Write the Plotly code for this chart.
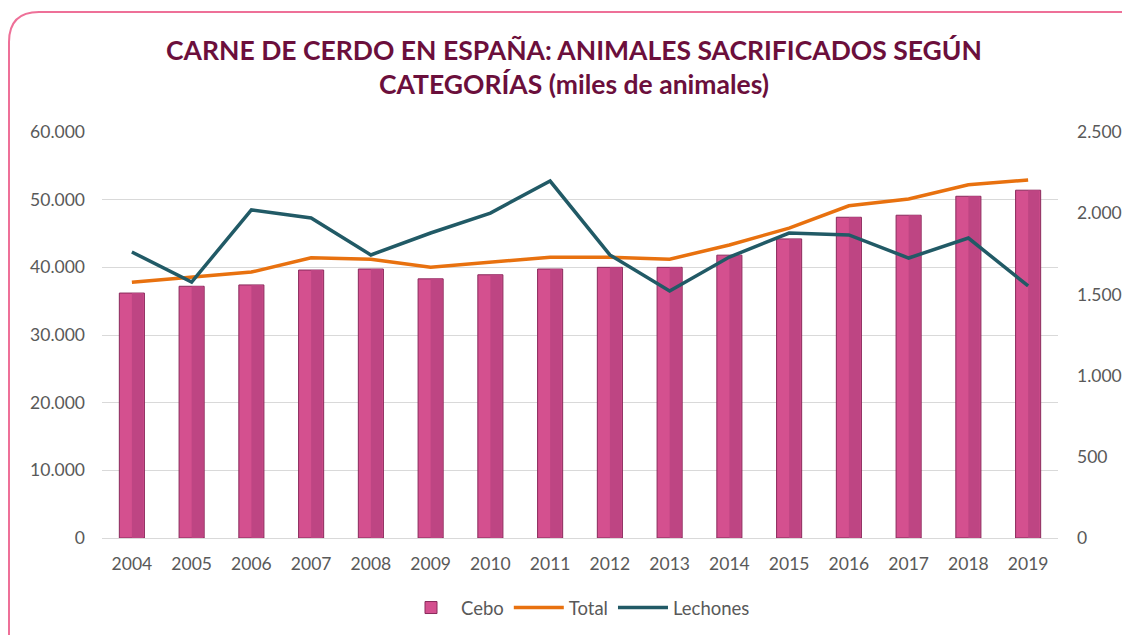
import plotly.graph_objects as go

years = [str(y) for y in range(2004, 2020)]
cebo = [36200, 37200, 37400, 39600, 39750, 38300, 38900, 39750, 40000, 40000, 41800, 44200, 47400, 47700, 50500, 51400]
total = [37800, 38600, 39300, 41400, 41200, 40000, 40800, 41500, 41500, 41200, 43300, 45800, 49100, 50100, 52200, 52900]
lechones = [1761, 1576, 2020, 1971, 1743, 1878, 2001, 2198, 1743, 1521, 1730, 1878, 1866, 1724, 1847, 1552]

left_ticks = [0, 10000, 20000, 30000, 40000, 50000, 60000]
right_ticks = [0, 500, 1000, 1500, 2000, 2500]

W, H = 1130, 635
OFF = 8  # page body offset
ML, MR, MT, MB = 102 - OFF, 72 + OFF, 132 - OFF, 97 + OFF

fig = go.Figure()
fig.add_trace(go.Bar(
    x=years, y=cebo, name="Cebo", width=0.42,
    marker=dict(color="#D4508F", line=dict(color="#8A2A5C", width=1)),
))
# darker right face for the bevelled look
fig.add_trace(go.Bar(
    x=years, y=cebo, name="Cebo", width=0.19, offset=0.0,
    marker=dict(color="#BE4583", line=dict(width=0)),
    showlegend=False, hoverinfo="skip",
))
fig.add_trace(go.Scatter(
    x=years, y=total, name="Total", mode="lines",
    line=dict(color="#E8710F", width=3.5),
))
fig.add_trace(go.Scatter(
    x=years, y=lechones, name="Lechones", mode="lines", yaxis="y2",
    line=dict(color="#215A66", width=3.5),
))

# rounded pink border (screen pixel geometry converted to paper coords)
pw, ph = W - ML - MR, H - MT - MB
def px(x):
    return (x - OFF - ML) / pw
def py(y):
    return 1 - (y - OFF - MT) / ph
x0, y0, x1, y1, r = 9, 12, 1160, 665, 30
path = (f"M {px(x0 + r)},{py(y0)} L {px(x1)},{py(y0)} "
        f"M {px(x0)},{py(y1)} L {px(x0)},{py(y0 + r)} "
        f"Q {px(x0)},{py(y0)} {px(x0 + r)},{py(y0)}")
fig.add_shape(type="path", path=path, xref="paper", yref="paper",
              line=dict(color="#EE7098", width=2), layer="above")

FONT = "Lato, 'Open Sans', sans-serif"
tick_font = dict(family=FONT, size=17.5, color="#595959")

fig.update_layout(
    width=W, height=H,
    margin=dict(l=ML, r=MR, t=MT, b=MB),
    paper_bgcolor="white", plot_bgcolor="white",
    separators=",.",
    barmode="overlay",
    title=dict(
        text="CARNE DE CERDO EN ESPAÑA: ANIMALES SACRIFICADOS SEGÚN<br>CATEGORÍAS (miles de animales)",
        x=px(574), xref="paper", xanchor="center",
        y=1 - (60 - OFF) / H, yref="container", yanchor="middle",
        font=dict(family=FONT, size=26.5, color="#6B0F3C", weight="bold"),
    ),
    xaxis=dict(
        type="category", range=[-0.5, 15.5], showgrid=False,
        showline=True, linecolor="#D9D9D9", ticks="", tickfont=tick_font,
        ticklabelstandoff=10,
    ),
    yaxis=dict(
        range=[0, 60000], tickvals=left_ticks, tickformat=",d",
        showgrid=True, gridcolor="#D9D9D9", gridwidth=1, zeroline=False,
        tickfont=tick_font, ticks="", ticklabelstandoff=16,
    ),
    yaxis2=dict(
        range=[0, 2500], tickvals=right_ticks, tickformat=",d",
        overlaying="y", side="right", showgrid=False, zeroline=False,
        tickfont=tick_font, ticks="", ticklabelstandoff=18,
    ),
    legend=dict(
        orientation="h", x=px(578), xanchor="center",
        y=py(608), yanchor="middle",
        font=dict(family=FONT, size=18.5, color="#595959"),
        itemwidth=50, entrywidth=0,
    ),
    showlegend=True,
)

fig.write_html("out.html")
